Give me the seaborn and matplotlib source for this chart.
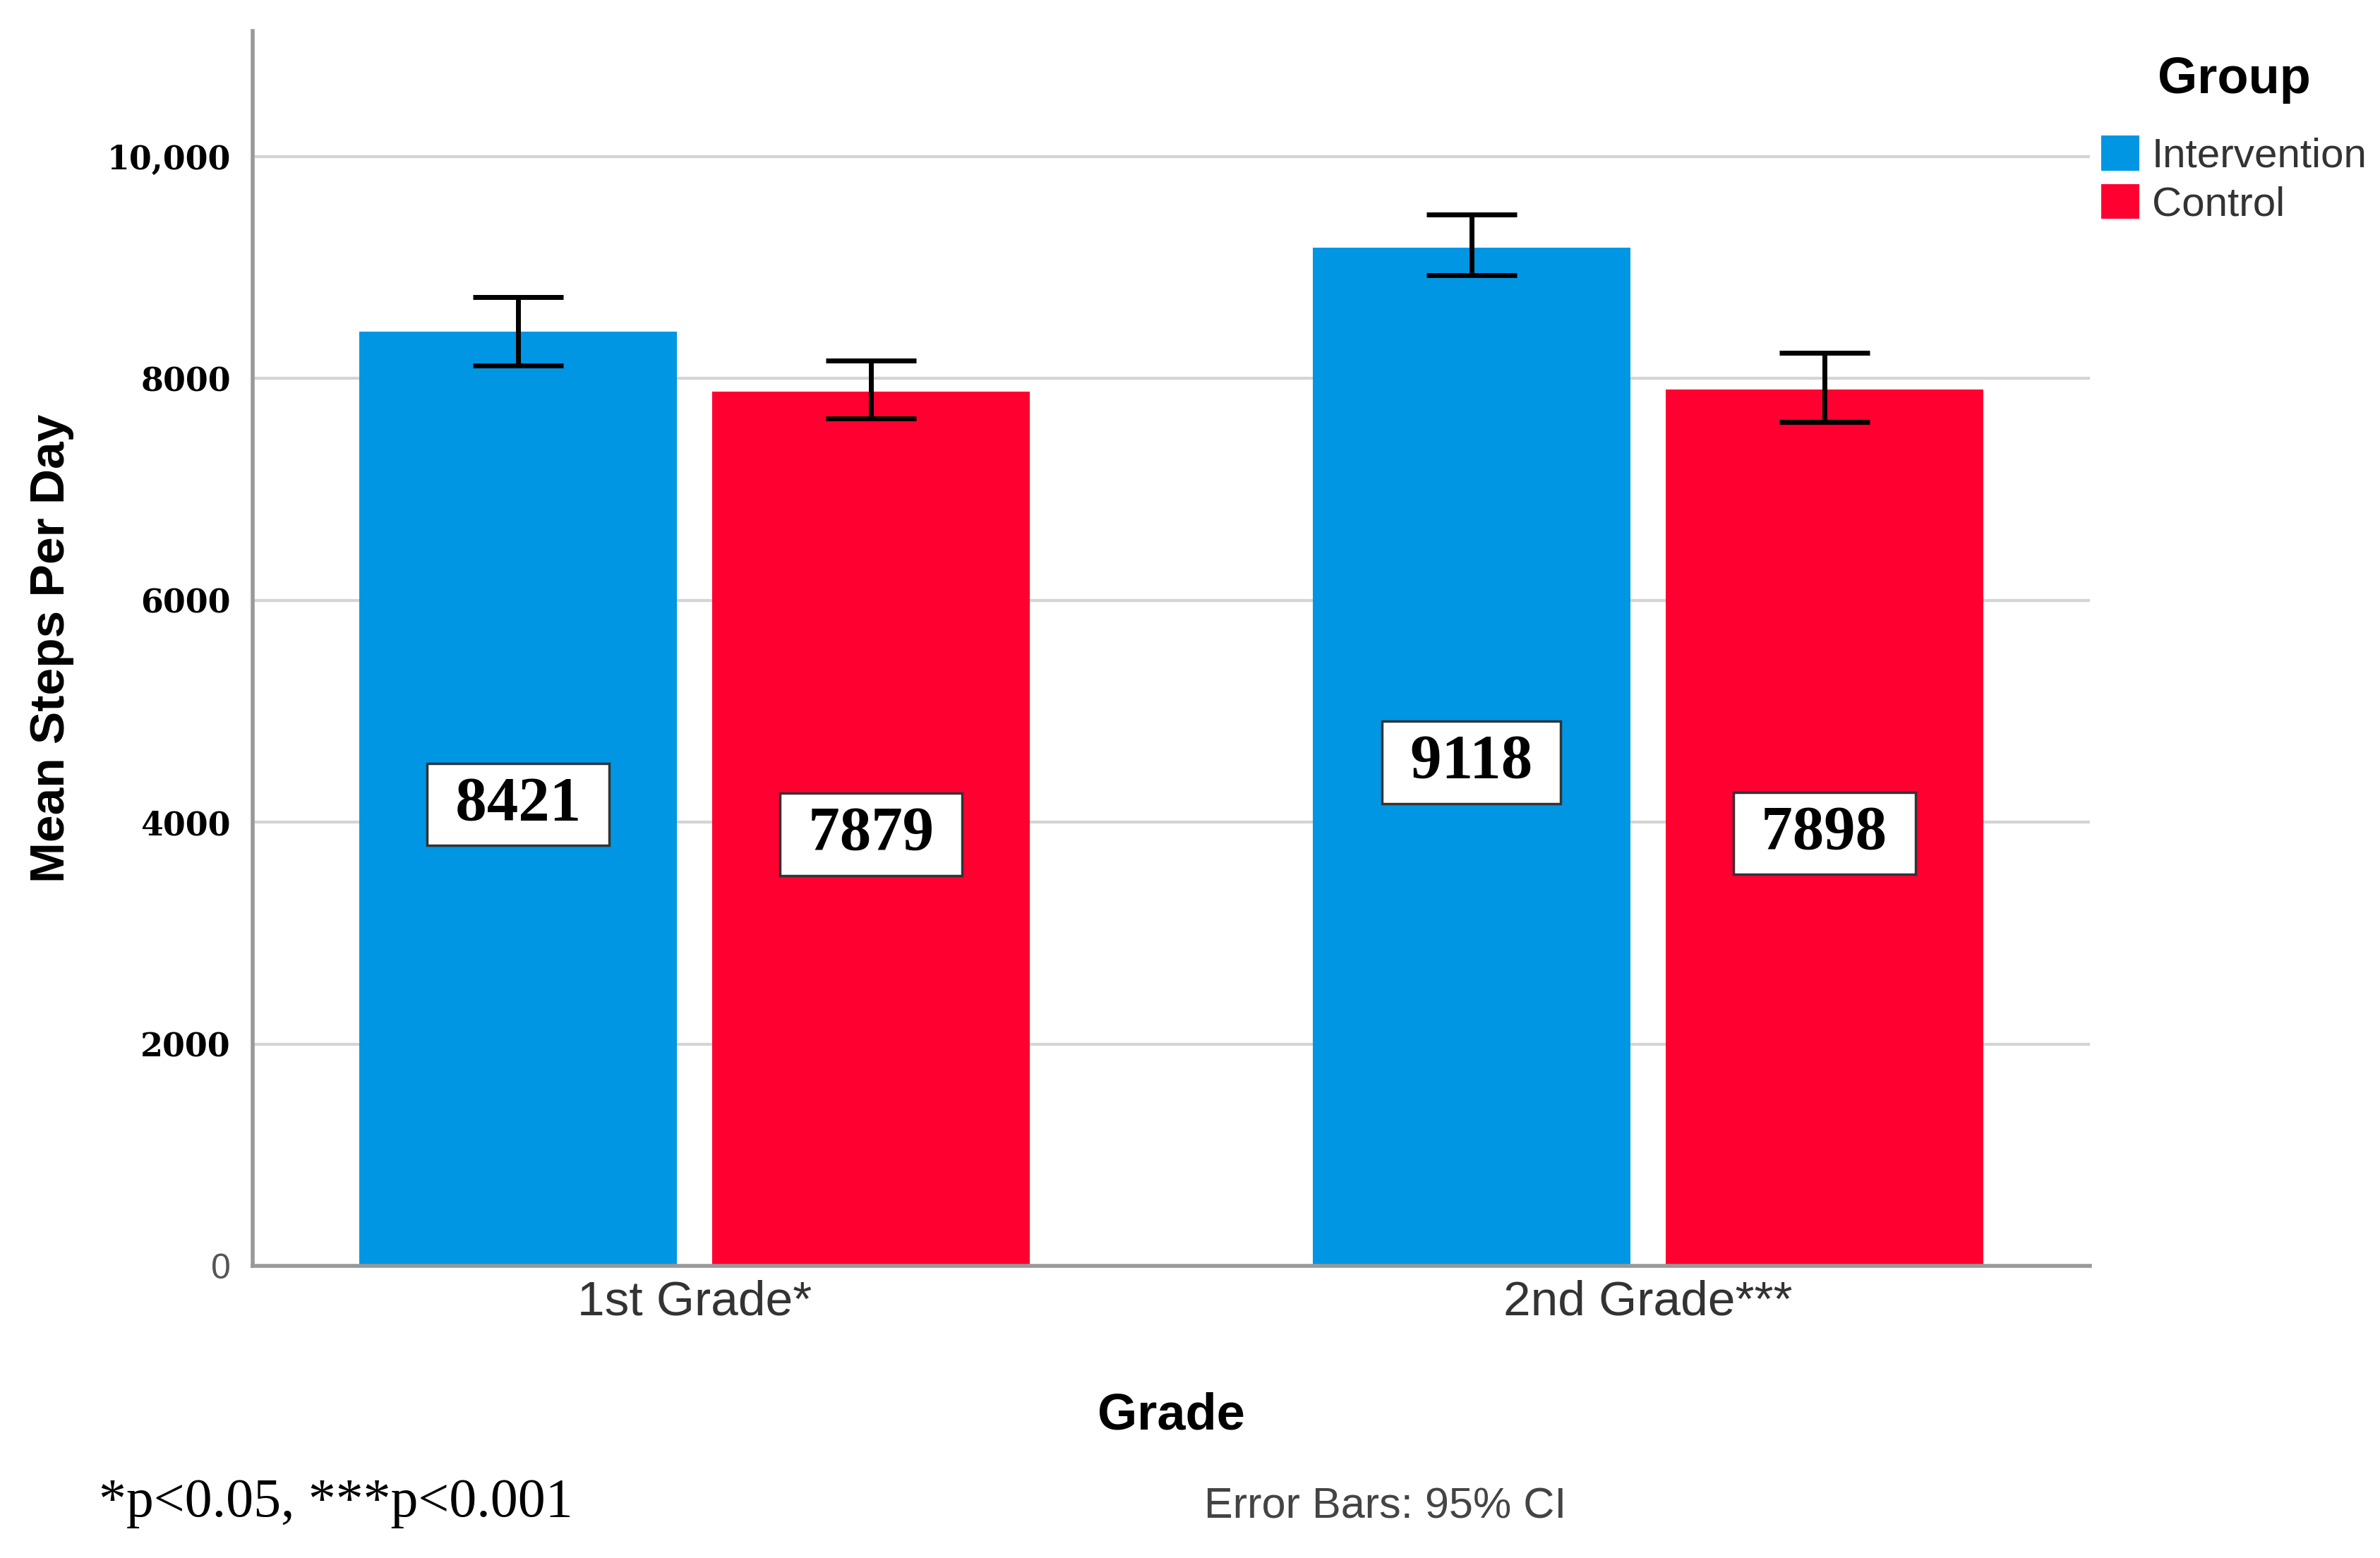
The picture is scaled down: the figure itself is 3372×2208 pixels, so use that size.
import pandas as pd
import numpy as np
import matplotlib
matplotlib.use("Agg")
import matplotlib.pyplot as plt
import seaborn as sns

# values
grades = ["1st Grade*", "2nd Grade***"]
groups = ["Intervention", "Control"]
intervention_mean = [8421, 9180]
control_mean = [7879, 7898]
intervention_ci = [(8118, 8736), (8929, 9478)]
control_ci = [(7637, 8159), (7610, 8228)]
intervention_labels = ["8421", "9118"]
control_labels = ["7879", "7898"]
ytick_values = [0, 2000, 4000, 6000, 8000, 10000]
ytick_labels = ["0", "2000", "4000", "6000", "8000", "10,000"]
colors = {"Intervention": "#0096E4", "Control": "#FF0030"}

df = pd.DataFrame({
    "Grade": grades * 2,
    "Group": [groups[0]] * 2 + [groups[1]] * 2,
    "Steps": intervention_mean + control_mean,
})
ci = {"Intervention": intervention_ci, "Control": control_ci}
labels = {"Intervention": intervention_labels, "Control": control_labels}

sns.set_theme(style="white")
plt.rcParams["font.family"] = ["Liberation Sans", "DejaVu Sans"]

fig = plt.figure(figsize=(33.73, 22.08), dpi=100)
ax = fig.add_axes([0.106, 0.1875, 0.772, 0.7925])

sns.barplot(data=df, x="Grade", y="Steps", hue="Group", palette=colors,
            width=0.74, gap=0.1, errorbar=None, saturation=1, ax=ax,
            linewidth=0)

# error bars + value boxes
for cont, grp in zip(ax.containers, groups):
    xs = [p.get_x() + p.get_width() / 2 for p in cont.patches]
    hs = [p.get_height() for p in cont.patches]
    lo = [h - c[0] for h, c in zip(hs, ci[grp])]
    hi = [c[1] - h for h, c in zip(hs, ci[grp])]
    ax.errorbar(xs, hs, yerr=[lo, hi], fmt="none", ecolor="black",
                elinewidth=5, capsize=46, capthick=5, zorder=5)
    for x, h, lab in zip(xs, hs, labels[grp]):
        ax.text(x, h / 2 - 50, " " + lab + " ", ha="center", va="center",
                family="Liberation Serif", fontweight="bold", fontsize=64,
                color="black", zorder=6,
                bbox=dict(boxstyle="square,pad=0.2", facecolor="white",
                          edgecolor="#333333", linewidth=2.5))

ax.set_ylim(0, 11130)
ax.set_xlim(-0.464, 1.464)
ax.set_yticks(ytick_values)
ax.set_yticklabels(ytick_labels, family="DejaVu Serif", fontweight="bold",
                   fontsize=33, color="black")
zero = ax.get_yticklabels()[0]
zero.set_family("Liberation Sans")
zero.set_fontweight("normal")
zero.set_fontsize(36)
zero.set_color("#555555")
ax.tick_params(axis="y", length=0, pad=22)
ax.tick_params(axis="x", length=0, pad=14, labelsize=50, labelcolor="#333333")

ax.yaxis.grid(True, color="#d4d4d4", linewidth=3)
ax.set_axisbelow(True)
for s in ["top", "right"]:
    ax.spines[s].set_visible(False)
for s in ["left", "bottom"]:
    ax.spines[s].set_color("#999999")
    ax.spines[s].set_linewidth(4)

ax.set_xlabel("Grade", fontsize=52, fontweight="bold", color="black")
ax.set_ylabel("Mean Steps Per Day", fontsize=50, fontweight="bold",
              color="black")
ax.xaxis.set_label_coords(0.5, -0.102)
ax.yaxis.set_label_coords(-0.097, 0.5)

handles, labs = ax.get_legend_handles_labels()
ax.legend(handles, labs, loc="upper left",
          bbox_to_anchor=(0.8826, 0.913), bbox_transform=fig.transFigure,
          frameon=False, fontsize=42, labelcolor="#333333",
          handlelength=0.93, handleheight=0.93, handletextpad=0.3,
          labelspacing=0.2, borderpad=0, borderaxespad=0)
fig.text(0.9384, 0.949, "Group", fontsize=52, fontweight="bold",
         ha="center", va="center", color="black")

fig.text(0.0415, 0.035, "*p<0.05, ***p<0.001", family="Liberation Serif",
         fontsize=56, va="center", ha="left", color="black")
fig.text(0.582, 0.0326, "Error Bars: 95% CI", fontsize=44, va="center",
         ha="center", color="#444444")

fig.savefig("out.png", dpi=100, facecolor="white")
